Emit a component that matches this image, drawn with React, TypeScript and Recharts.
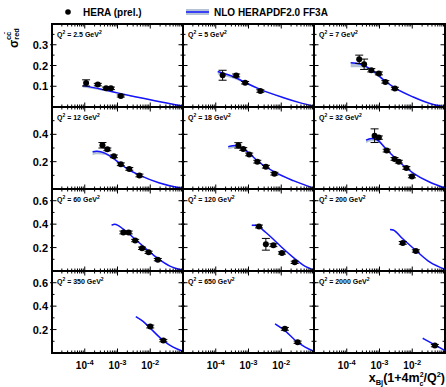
import {
  Area,
  ComposedChart,
  ErrorBar,
  Line,
  ReferenceArea,
  Scatter,
  XAxis,
  YAxis,
} from "recharts"

// 4x3 grid of charm reduced cross-section panels, HERA points vs NLO band.

const FONT = "'Liberation Sans', Arial, Helvetica, sans-serif"
const LINE = "#1414ff"
const BAND = "#b3c2d5"

const q2Labels = ["2.5", "5", "7", "12", "18", "32", "60", "120", "200", "350", "650", "2000"]

// HERA (prel.) measurements per panel
const heraX = [
  [1.1e-4, 2.5e-4, 4.5e-4, 6.3e-4, 1.26e-3],
  [1.62e-4, 4.2e-4, 7.9e-4, 2.3e-3],
  [2.4e-4, 3.39e-4, 5.62e-4, 9.55e-4, 1.51e-3, 2.95e-3],
  [3.47e-4, 4.9e-4, 7.76e-4, 1.26e-3, 2.29e-3, 4.68e-3],
  [4.9e-4, 6.92e-4, 1.05e-3, 1.86e-3, 3.39e-3, 6.17e-3],
  [7.08e-4, 9.55e-4, 1.66e-3, 2.88e-3, 3.89e-3, 6.61e-3, 9.77e-3],
  [1.51e-3, 2.19e-3, 3.47e-3, 5.62e-3, 8.91e-3, 1.7e-2],
  [2.09e-3, 3.39e-3, 5.75e-3, 1.05e-2, 2.57e-2],
  [5.13e-3, 1.29e-2],
  [1.0e-2, 2.51e-2],
  [1.29e-2, 3.16e-2],
  [4.9e-2],
]
const heraY = [
  [0.116, 0.108, 0.09, 0.09, 0.053],
  [0.153, 0.152, 0.117, 0.077],
  [0.23, 0.206, 0.177, 0.162, 0.121, 0.089],
  [0.32, 0.29, 0.239, 0.181, 0.147, 0.099],
  [0.319, 0.293, 0.253, 0.2, 0.163, 0.112],
  [0.39, 0.376, 0.281, 0.22, 0.2, 0.154, 0.092],
  [0.329, 0.329, 0.26, 0.194, 0.159, 0.097],
  [0.38, 0.228, 0.22, 0.154, 0.074],
  [0.24, 0.171],
  [0.226, 0.106],
  [0.206, 0.092],
  [0.063],
]
const heraErr = [
  [0.015, 0.006, 0.006, 0.006, 0.005],
  [0.024, 0.007, 0.006, 0.006],
  [0.02, 0.025, 0.008, 0.007, 0.006, 0.006],
  [0.02, 0.01, 0.01, 0.01, 0.01, 0.01],
  [0.02, 0.01, 0.01, 0.01, 0.01, 0.01],
  [0.05, 0.012, 0.01, 0.01, 0.01, 0.01, 0.01],
  [0.012, 0.012, 0.01, 0.01, 0.01, 0.01],
  [0.012, 0.05, 0.012, 0.01, 0.01],
  [0.012, 0.01],
  [0.012, 0.01],
  [0.012, 0.01],
  [0.01],
]

// NLO HERAPDF2.0 FF3A: central line and band edges
const nloX = [
  [8.7e-5, 3.16e-4, 1e-3, 3.16e-3, 1e-2, 3.16e-2, 0.1],
  [1.15e-4, 4.07e-4, 7.94e-4, 2.29e-3, 1.12e-2, 3.63e-2, 0.1],
  [1.32e-4, 2.51e-4, 5.62e-4, 1.51e-3, 2.95e-3, 1.07e-2, 4.37e-2, 0.1],
  [1.74e-4, 2.34e-4, 4.27e-4, 7.59e-4, 1.23e-3, 2.29e-3, 4.68e-3, 1.82e-2, 0.1],
  [2.4e-4, 3.98e-4, 6.31e-4, 1.05e-3, 1.86e-3, 6.17e-3, 2.34e-2, 0.1],
  [3.89e-4, 5.62e-4, 8.13e-4, 1.66e-3, 4.27e-3, 1.07e-2, 3.47e-2, 0.1],
  [6.61e-4, 8.32e-4, 1.51e-3, 3.47e-3, 8.91e-3, 1.7e-2, 3.98e-2, 0.1],
  [1.26e-3, 1.58e-3, 3.39e-3, 5.75e-3, 1.05e-2, 2.57e-2, 4.68e-2, 0.1],
  [2.09e-3, 2.63e-3, 5.13e-3, 1.29e-2, 3.47e-2, 0.1],
  [3.63e-3, 6.17e-3, 1e-2, 2.51e-2, 5.01e-2, 0.1],
  [6.46e-3, 1.29e-2, 3.16e-2, 5.37e-2, 0.1],
  [2.09e-2, 4.9e-2, 0.1],
]
const nloY = [
  [0.103, 0.086, 0.068, 0.051, 0.035, 0.019, 0.004],
  [0.171, 0.141, 0.118, 0.085, 0.046, 0.021, 0.003],
  [0.213, 0.207, 0.18, 0.124, 0.092, 0.048, 0.012, 0.001],
  [0.273, 0.277, 0.261, 0.224, 0.183, 0.139, 0.102, 0.046, 0.003],
  [0.31, 0.318, 0.302, 0.262, 0.207, 0.125, 0.061, 0.005],
  [0.358, 0.37, 0.362, 0.288, 0.192, 0.117, 0.049, 0.007],
  [0.391, 0.4, 0.357, 0.271, 0.171, 0.108, 0.042, 0.006],
  [0.391, 0.39, 0.329, 0.271, 0.2, 0.106, 0.051, 0.007],
  [0.355, 0.35, 0.275, 0.175, 0.075, 0.014],
  [0.311, 0.268, 0.212, 0.106, 0.05, 0.015],
  [0.249, 0.191, 0.092, 0.05, 0.015],
  [0.126, 0.069, 0.021],
]
const nloLo = [
  [0.094, 0.08, 0.064, 0.048, 0.033, 0.018, 0.003],
  [0.157, 0.132, 0.112, 0.081, 0.044, 0.02, 0.002],
  [0.192, 0.192, 0.17, 0.118, 0.088, 0.046, 0.011, 0.0],
  [0.247, 0.254, 0.248, 0.215, 0.177, 0.135, 0.099, 0.044, 0.002],
  [0.29, 0.3, 0.29, 0.254, 0.201, 0.121, 0.059, 0.004],
  [0.337, 0.35, 0.348, 0.279, 0.186, 0.113, 0.047, 0.006],
  [0.382, 0.392, 0.351, 0.266, 0.168, 0.106, 0.041, 0.005],
  [0.383, 0.383, 0.324, 0.267, 0.197, 0.104, 0.05, 0.006],
  [0.348, 0.344, 0.271, 0.172, 0.073, 0.013],
  [0.305, 0.263, 0.208, 0.104, 0.049, 0.014],
  [0.244, 0.187, 0.09, 0.049, 0.014],
  [0.123, 0.067, 0.02],
]
const nloHi = [
  [0.105, 0.088, 0.069, 0.052, 0.036, 0.02, 0.005],
  [0.174, 0.143, 0.12, 0.086, 0.047, 0.022, 0.004],
  [0.217, 0.21, 0.182, 0.126, 0.093, 0.049, 0.013, 0.002],
  [0.278, 0.281, 0.264, 0.226, 0.185, 0.14, 0.103, 0.047, 0.004],
  [0.315, 0.322, 0.305, 0.264, 0.209, 0.126, 0.062, 0.006],
  [0.364, 0.374, 0.365, 0.29, 0.194, 0.118, 0.05, 0.008],
  [0.395, 0.403, 0.36, 0.273, 0.173, 0.109, 0.043, 0.007],
  [0.395, 0.393, 0.332, 0.273, 0.202, 0.107, 0.052, 0.008],
  [0.358, 0.353, 0.277, 0.177, 0.076, 0.015],
  [0.314, 0.27, 0.214, 0.107, 0.051, 0.016],
  [0.251, 0.193, 0.093, 0.051, 0.016],
  [0.127, 0.07, 0.022],
]

// axes per row
const yMax = [0.4, 0.6, 0.7, 0.7]
const yTicks = [
  [0.05, 0.1, 0.15, 0.2, 0.25, 0.3, 0.35],
  [0.1, 0.2, 0.3, 0.4, 0.5],
  [0.1, 0.2, 0.3, 0.4, 0.5, 0.6],
  [0.1, 0.2, 0.3, 0.4, 0.5, 0.6],
]
const yTickLabels = [
  ["0.1", "0.2", "0.3"],
  ["0.2", "0.4"],
  ["0.2", "0.4", "0.6"],
  ["0.2", "0.4", "0.6"],
]
const xDecades = [-5, -4, -3, -2, -1]
const xTickLabels = ["-4", "-3", "-2"]

const xTicks: number[] = []
xDecades.forEach((d) => {
  if (d === -1) {
    xTicks.push(0.1)
    return
  }
  for (let m = 1; m <= 9; m++) xTicks.push(Number((m * Math.pow(10, d)).toPrecision(3)))
})

// layout (page pixels)
const COL_LEFT = [52, 183, 314]
const ROW_TOP = [24, 107, 189, 271]
const ROW_H = [83, 82, 82, 82]
const PLOT_W = 131
const AXIS_W = 46
const AXIS_H = 26
const PAD = 3

function XTick(props: any) {
  const { x, y, payload, plotH, showLabel } = props
  const lg = Math.log10(payload.value)
  const exp = Math.round(lg)
  const major = Math.abs(lg - exp) < 1e-6
  const len = major ? 4.5 : 2.5
  const label = String(exp)
  return (
    <g>
      <line x1={x} x2={x} y1={y} y2={y - len} stroke="#000" strokeWidth={1} />
      <line x1={x} x2={x} y1={y - plotH} y2={y - plotH + len} stroke="#000" strokeWidth={1} />
      {showLabel && major && xTickLabels.includes(label) ? (
        <text
          x={x}
          y={y + 16}
          textAnchor="middle"
          fontFamily={FONT}
          fontWeight="bold"
          fontSize={10}
          fill="#000"
        >
          10
          <tspan dy={-4.5} fontSize={7.5}>
            {label}
          </tspan>
        </text>
      ) : null}
    </g>
  )
}

function YTick(props: any) {
  const { x, y, payload, labels, showLabel } = props
  const text = payload.value.toFixed(1)
  const isLabel = labels.includes(text) && Math.abs(payload.value - Number(text)) < 1e-9
  const len = isLabel ? 4.5 : 2.5
  return (
    <g>
      <line x1={isLabel ? x - 2 : x} x2={x + len} y1={y} y2={y} stroke="#000" strokeWidth={1} />
      <line
        x1={x + PLOT_W - len}
        x2={isLabel ? x + PLOT_W + 2 : x + PLOT_W}
        y1={y}
        y2={y}
        stroke="#000"
        strokeWidth={1}
      />
      {showLabel && isLabel ? (
        <text
          x={x - 4}
          y={y + 4}
          textAnchor="end"
          fontFamily={FONT}
          fontWeight="bold"
          fontSize={11}
          fill="#000"
        >
          {text}
        </text>
      ) : null}
    </g>
  )
}

function Panel({ index }: { index: number }) {
  const row = Math.floor(index / 3)
  const col = index % 3
  const plotH = ROW_H[row]
  const points = heraX[index].map((x, i) => ({ x, y: heraY[index][i], err: heraErr[index][i] }))
  const nlo = nloX[index].map((x, i) => ({
    x,
    y: nloY[index][i],
    band: [nloLo[index][i], nloHi[index][i]],
  }))

  return (
    <div
      style={{
        position: "absolute",
        left: COL_LEFT[col] - AXIS_W,
        top: ROW_TOP[row] - PAD,
      }}
    >
      <ComposedChart
        width={AXIS_W + PLOT_W + PAD}
        height={PAD + plotH + AXIS_H}
        margin={{ top: PAD, right: PAD, bottom: 0, left: 0 }}
      >
        <XAxis
          dataKey="x"
          type="number"
          scale="log"
          domain={[1e-5, 0.1]}
          allowDataOverflow
          ticks={xTicks}
          interval={0}
          height={AXIS_H}
          axisLine={false}
          tickLine={false}
          tickSize={0}
          tickMargin={0}
          tick={(p: any) => <XTick {...p} plotH={plotH} showLabel={row === 3} />}
        />
        <YAxis
          dataKey="y"
          type="number"
          domain={[0, yMax[row]]}
          allowDataOverflow
          ticks={yTicks[row]}
          interval={0}
          width={AXIS_W}
          axisLine={false}
          tickLine={false}
          tickSize={0}
          tickMargin={0}
          tick={(p: any) => <YTick {...p} labels={yTickLabels[row]} showLabel={col === 0} />}
        />
        <Area
          data={nlo}
          dataKey="band"
          type="monotone"
          stroke="none"
          fill={BAND}
          fillOpacity={1}
          isAnimationActive={false}
        />
        <Line
          data={nlo}
          dataKey="y"
          type="monotone"
          stroke={LINE}
          strokeWidth={1.5}
          dot={false}
          isAnimationActive={false}
        />
        <Scatter
          data={points}
          dataKey="y"
          isAnimationActive={false}
          shape={(p: any) => <circle cx={p.cx} cy={p.cy} r={3} fill="#000" />}
        >
          <ErrorBar dataKey="err" direction="y" width={4} stroke="#000" strokeWidth={1} />
        </Scatter>
        <ReferenceArea
          x1={1e-5}
          x2={0.1}
          y1={0}
          y2={yMax[row]}
          ifOverflow="visible"
          fill="none"
          fillOpacity={0}
          stroke="#000"
          strokeWidth={2}
        />
      </ComposedChart>
    </div>
  )
}

export default function App() {
  return (
    <div
      style={{
        position: "absolute",
        left: 0,
        top: 0,
        width: 446,
        height: 387,
        background: "#fff",
        fontFamily: FONT,
      }}
    >
      {q2Labels.map((_, i) => (
        <Panel key={i} index={i} />
      ))}
      <svg
        width={446}
        height={387}
        style={{ position: "absolute", left: 0, top: 0, pointerEvents: "none" }}
      >
        <g fontFamily={FONT} fontWeight="bold" fill="#000">
          {/* legend */}
          <circle cx={68} cy={12} r={2.8} fill="#000" />
          <text x={83} y={15.5} fontSize={10}>
            HERA (prel.)
          </text>
          <rect x={186} y={9} width={23} height={6} fill={BAND} />
          <line x1={186} x2={209} y1={12} y2={12} stroke={LINE} strokeWidth={1.5} />
          <text x={214} y={15.5} fontSize={10}>
            NLO HERAPDF2.0 FF3A
          </text>

          {/* Q2 labels */}
          {q2Labels.map((q, i) => (
            <text
              key={q}
              x={COL_LEFT[i % 3] + 5}
              y={ROW_TOP[Math.floor(i / 3)] + 13}
              fontSize={7}
            >
              Q<tspan dy={-3} fontSize={5}>2</tspan>
              <tspan dy={3}> = {q} GeV</tspan>
              <tspan dy={-3} fontSize={5}>2</tspan>
            </text>
          ))}

          {/* y title */}
          <text transform="translate(18,48) rotate(-90)" fontSize={12}>
            σ
            <tspan dy={1} fontSize={7.5}>red</tspan>
            <tspan dx={-12} dy={-8} fontSize={7.5}>
              cc̄
            </tspan>
          </text>

          {/* x title */}
          <text x={445} y={382} textAnchor="end" fontSize={12.5}>
            x<tspan dy={2.5} fontSize={7.5}>Bj</tspan>
            <tspan dy={-2.5}>(1+4m</tspan>
            <tspan dy={-5} fontSize={7}>2</tspan>
            <tspan dx={-4} dy={8.5} fontSize={7}>c</tspan>
            <tspan dy={-3.5}>/Q</tspan>
            <tspan dy={-5} fontSize={7.5}>2</tspan>
            <tspan dy={5}>)</tspan>
          </text>
        </g>
      </svg>
    </div>
  )
}
